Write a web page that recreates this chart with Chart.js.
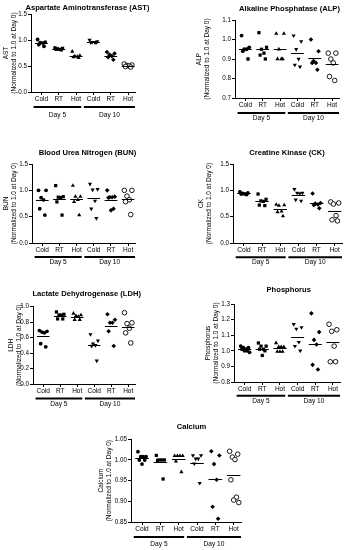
<!DOCTYPE html>
<html>
<head>
<meta charset="utf-8">
<script src="https://cdn.jsdelivr.net/npm/chart.js@4.4.1/dist/chart.umd.min.js"></script>
<style>
  html, body { margin: 0; padding: 0; background: #fff; }
  body { position: relative; width: 347px; height: 550px; overflow: hidden; }
  canvas { position: absolute; }
</style>
</head>
<body>
<script>
const groupLabels = ['Cold', 'RT', 'Hot', 'Cold', 'RT', 'Hot'];
const dayLabels = ['Day 5', 'Day 10'];

// values normalized to 1.0 at day 0, one list per group (Day 5 x3, Day 10 x3)
const astValues = [
  [1.01, 0.96, 0.95, 0.94, 0.91, 0.88],
  [0.85, 0.84, 0.83, 0.82, 0.82, 0.81],
  [0.78, 0.70, 0.69, 0.68, 0.67, 0.66],
  [1.00, 0.97, 0.96, 0.96, 0.95, 0.95],
  [0.77, 0.74, 0.72, 0.69, 0.67, 0.62],
  [0.54, 0.52, 0.51, 0.50, 0.49, 0.48]
];
const astTicks = [0, 0.5, 1.0, 1.5];

const alpValues = [
  [1.02, 0.96, 0.95, 0.95, 0.94, 0.90],
  [1.035, 0.96, 0.95, 0.93, 0.92, 0.90],
  [1.03, 1.03, 0.95, 0.90, 0.90, 0.90],
  [1.02, 0.99, 0.95, 0.90, 0.87, 0.86],
  [1.00, 0.94, 0.89, 0.88, 0.88, 0.845],
  [0.93, 0.93, 0.90, 0.88, 0.81, 0.79]
];
const alpTicks = [0.7, 0.8, 0.9, 1.0, 1.1];

const bunValues = [
  [1.0, 1.0, 0.86, 0.82, 0.65, 0.53],
  [1.09, 0.88, 0.87, 0.86, 0.78, 0.53],
  [1.09, 0.88, 0.88, 0.82, 0.78, 0.53],
  [1.12, 1.02, 1.01, 0.80, 0.65, 0.47],
  [1.0, 0.88, 0.87, 0.87, 0.86, 0.65, 0.62],
  [1.0, 1.0, 0.89, 0.82, 0.785, 0.54]
];
const bunTicks = [0, 0.5, 1.0, 1.5];

const ckValues = [
  [0.97, 0.95, 0.94, 0.93, 0.93, 0.92],
  [0.93, 0.83, 0.80, 0.79, 0.72, 0.71],
  [0.73, 0.72, 0.71, 0.60, 0.59, 0.51],
  [1.02, 0.95, 0.95, 0.94, 0.82, 0.80],
  [0.94, 0.76, 0.75, 0.73, 0.72, 0.66],
  [0.78, 0.76, 0.74, 0.52, 0.44, 0.42]
];
const ckTicks = [0, 0.5, 1.0, 1.5];

const ldhValues = [
  [0.69, 0.68, 0.67, 0.66, 0.52, 0.48],
  [0.93, 0.90, 0.89, 0.89, 0.84, 0.84],
  [0.91, 0.89, 0.88, 0.87, 0.83, 0.83],
  [0.64, 0.56, 0.52, 0.50, 0.49, 0.30],
  [0.90, 0.83, 0.79, 0.79, 0.68, 0.49],
  [0.92, 0.79, 0.78, 0.72, 0.66, 0.53]
];
const ldhTicks = [0, 0.2, 0.4, 0.6, 0.8, 1.0];

const phosValues = [
  [1.03, 1.02, 1.02, 1.01, 1.01, 1.00, 1.00, 0.99],
  [1.05, 1.03, 1.03, 1.01, 1.01, 1.00, 0.97],
  [1.05, 1.025, 1.025, 1.025, 0.995, 0.995, 0.995],
  [1.17, 1.15, 1.14, 1.055, 1.03, 1.00],
  [1.24, 1.12, 1.07, 1.04, 0.91, 0.88],
  [1.17, 1.135, 1.125, 1.03, 0.93, 0.93]
];
const phosTicks = [0.8, 0.9, 1.0, 1.1, 1.2, 1.3];

const caValues = [
  [1.02, 1.008, 1.008, 1.008, 1.0, 1.0, 0.99],
  [1.011, 1.0, 1.0, 1.0, 0.999, 0.954],
  [1.01, 1.01, 1.01, 1.01, 0.997, 0.971],
  [1.011, 1.011, 1.003, 1.003, 0.991, 0.944],
  [1.021, 1.011, 0.99, 0.952, 0.887, 0.858],
  [1.021, 1.014, 1.007, 1.001, 0.952, 0.910, 0.903, 0.897]
];
const caTicks = [0.85, 0.90, 0.95, 1.00, 1.05];

const FONT = "'Liberation Sans', Arial, sans-serif";
const spread = [-0.22, 0.22, -0.07, 0.07, -0.15, 0.15, 0, 0.28];
const daySpans = [[-0.45, 2.3], [2.45, 5.4]];

const markers = [
  { pointStyle: 'circle', radius: 1.9, rotation: 0, fill: '#000' },
  { pointStyle: 'rect', radius: 2.3, rotation: 0, fill: '#000' },
  { pointStyle: 'triangle', radius: 2.4, rotation: 0, fill: '#000' },
  { pointStyle: 'triangle', radius: 2.4, rotation: 180, fill: '#000' },
  { pointStyle: 'rectRot', radius: 2.3, rotation: 0, fill: '#000' },
  { pointStyle: 'circle', radius: 2.3, rotation: 0, fill: '#fff' }
];

const panels = [
  { title: 'Aspartate Aminotransferase (AST)', yTitle: ['AST', '(Normalized to 1.0 at Day 0)'],
    values: astValues, ticks: astTicks, decimals: 1,
    box: [31, 14, 135, 92], titleX: 87.5, titleY: 8, axisW: 29, lineOff: 15, dayOff: 23.5 },
  { title: 'Alkaline Phosphatase (ALP)', yTitle: ['ALP', '(Normalized to 1.0 at Day 0)'],
    values: alpValues, ticks: alpTicks, decimals: 1,
    box: [235, 20, 339, 98], titleX: 289.5, titleY: 9, axisW: 40, lineOff: 15, dayOff: 20 },
  { title: 'Blood Urea Nitrogen (BUN)', yTitle: ['BUN', '(Normalized to 1.0 at Day 0)'],
    values: bunValues, ticks: bunTicks, decimals: 1,
    box: [32, 164, 135, 243], titleX: 87.5, titleY: 153, axisW: 30, lineOff: 14, dayOff: 19.5 },
  { title: 'Creatine Kinase (CK)', yTitle: ['CK', '(Normalized to 1.0 at Day 0)'],
    values: ckValues, ticks: ckTicks, decimals: 1,
    box: [233, 164, 342, 243], titleX: 287, titleY: 153, axisW: 36, lineOff: 14.3, dayOff: 19.5 },
  { title: 'Lactate Dehydrogenase (LDH)', yTitle: ['LDH', '(Normalized to 1.0 at Day 0)'],
    values: ldhValues, ticks: ldhTicks, decimals: 1,
    box: [33, 306.5, 135, 383.5], titleX: 86.7, titleY: 294, axisW: 26, lineOff: 14.4, dayOff: 20 },
  { title: 'Phosphorus', yTitle: ['Phosphorus', '(Normalized to 1.0 at Day 0)'],
    values: phosValues, ticks: phosTicks, decimals: 1,
    box: [234, 304, 340, 382.3], titleX: 288.7, titleY: 290, axisW: 30, lineOff: 13.7, dayOff: 19.5 },
  { title: 'Calcium', yTitle: ['Calcium', '(Normalized to 1.0 at Day 0)'],
    values: caValues, ticks: caTicks, decimals: 2,
    box: [131, 439, 241, 521.7], titleX: 191.5, titleY: 426.7, axisW: 34, lineOff: 15, dayOff: 22.3 }
];

// panel title, mean bars and Day 5 / Day 10 brackets under the x axis
const extras = {
  id: 'extras',
  afterDatasetsDraw(chart, args, opts) {
    const { ctx, chartArea } = chart;
    const xs = chart.scales.x, ys = chart.scales.y;
    ctx.save();
    ctx.strokeStyle = '#000';
    ctx.fillStyle = '#000';
    ctx.lineWidth = 1;
    chart.data.datasets.forEach((ds, gi) => {
      const mean = ds.data.reduce((s, d) => s + d.y, 0) / ds.data.length;
      const y = Math.round(ys.getPixelForValue(mean)) + 0.5;
      ctx.beginPath();
      ctx.moveTo(xs.getPixelForValue(gi - 0.37), y);
      ctx.lineTo(xs.getPixelForValue(gi + 0.37), y);
      ctx.stroke();
    });
    ctx.textAlign = 'center';
    ctx.textBaseline = 'middle';
    ctx.font = 'bold 7.6px ' + FONT;
    ctx.fillText(opts.title, opts.titleX, opts.titleY);

    ctx.lineWidth = 2;
    ctx.font = '6.6px ' + FONT;
    daySpans.forEach(([a, b], di) => {
      const y = chartArea.bottom + opts.lineOff;
      ctx.beginPath();
      ctx.moveTo(xs.getPixelForValue(a), y);
      ctx.lineTo(xs.getPixelForValue(b), y);
      ctx.stroke();
      ctx.fillText(dayLabels[di], xs.getPixelForValue((a + b) / 2), chartArea.bottom + opts.dayOff);
    });
    ctx.restore();
  }
};

function makePanel(p) {
  const [l, t, r, b] = p.box;
  const top = p.titleY - 7;
  const left = l - p.axisW;
  const padRight = 14;
  const xAxisH = 30;
  const w = Math.round(r - left + padRight);
  const h = Math.round(b - top + xAxisH);

  const canvas = document.createElement('canvas');
  canvas.width = w;
  canvas.height = h;
  canvas.style.left = left + 'px';
  canvas.style.top = top + 'px';
  canvas.style.width = w + 'px';
  canvas.style.height = h + 'px';
  document.body.appendChild(canvas);

  const axisLine = { display: true, color: '#000', width: 1 };
  const tickGrid = { display: true, drawOnChartArea: false, drawTicks: true, tickLength: 3, color: '#000', lineWidth: 1 };

  new Chart(canvas, {
    type: 'scatter',
    data: {
      datasets: groupLabels.map((g, gi) => ({
        label: g,
        data: p.values[gi].map((v, i) => ({ x: gi + spread[i], y: v })),
        pointStyle: markers[gi].pointStyle,
        pointRotation: markers[gi].rotation,
        pointRadius: markers[gi].radius,
        backgroundColor: markers[gi].fill,
        borderColor: '#000',
        borderWidth: markers[gi].fill === '#fff' ? 0.9 : 0,
        clip: false
      }))
    },
    plugins: [extras],
    options: {
      responsive: false,
      animation: false,
      events: [],
      layout: { padding: { left: 0, right: padRight, top: t - top, bottom: 0 } },
      plugins: {
        legend: { display: false },
        tooltip: { enabled: false },
        title: { display: false },
        extras: {
          title: p.title, titleX: p.titleX - left, titleY: p.titleY - top,
          lineOff: p.lineOff, dayOff: p.dayOff
        }
      },
      scales: {
        x: {
          type: 'linear',
          min: -0.6,
          max: 5.4,
          afterBuildTicks: s => { s.ticks = groupLabels.map((_, i) => ({ value: i })); },
          afterFit: s => { s.height = xAxisH; },
          grid: tickGrid,
          border: axisLine,
          ticks: {
            callback: (v, i) => groupLabels[i],
            color: '#000',
            padding: 0,
            maxRotation: 0,
            autoSkip: false,
            font: { size: 6.5, family: FONT }
          }
        },
        y: {
          min: p.ticks[0],
          max: p.ticks[p.ticks.length - 1],
          afterBuildTicks: s => { s.ticks = p.ticks.map(v => ({ value: v })); },
          afterFit: s => { s.width = p.axisW; },
          grid: tickGrid,
          border: axisLine,
          ticks: {
            callback: v => v.toFixed(p.decimals),
            color: '#000',
            padding: 1,
            font: { size: 6.3, family: FONT }
          },
          title: {
            display: true,
            text: p.yTitle,
            color: '#000',
            padding: 0,
            font: { size: 6.5, family: FONT, lineHeight: 1.25 }
          }
        }
      }
    }
  });
}

panels.forEach(makePanel);
</script>
</body>
</html>
